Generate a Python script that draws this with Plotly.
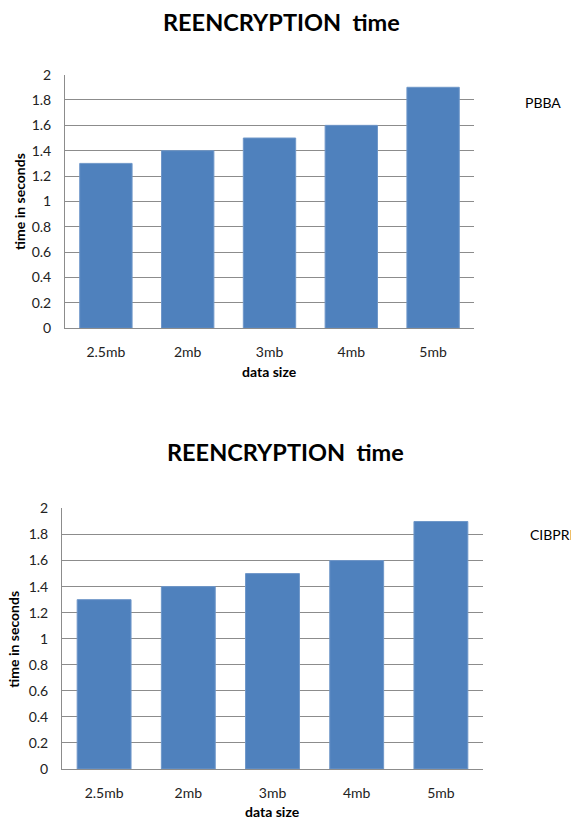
import plotly.graph_objects as go

# Data
categories = ["2.5mb", "2mb", "3mb", "4mb", "5mb"]
pbba_times = [1.3, 1.4, 1.5, 1.6, 1.9]
cibpre_times = [1.3, 1.4, 1.5, 1.6, 1.9]
y_ticks = [0, 0.2, 0.4, 0.6, 0.8, 1, 1.2, 1.4, 1.6, 1.8, 2]
y_tick_text = ["0", "0.2", "0.4", "0.6", "0.8", "1", "1.2", "1.4", "1.6", "1.8", "2"]

W, H = 571, 823
FONT = "Lato, 'Open Sans', sans-serif"
BAR = "#4F81BD"
GRID = "#8c8c8c"

def px_x(x):
    return x / W

def px_y(y):
    return 1 - y / H

fig = go.Figure()

fig.add_trace(go.Bar(x=categories, y=pbba_times, name="PBBA", marker=dict(color=BAR, line=dict(color="#6f97c9", width=1)),
                     xaxis="x", yaxis="y", showlegend=False))
fig.add_trace(go.Bar(x=categories, y=cibpre_times, name="CIBPRE", marker=dict(color=BAR, line=dict(color="#6f97c9", width=1)),
                     xaxis="x2", yaxis="y2", showlegend=False))

xcommon = dict(showgrid=False, showline=True, linecolor=GRID, linewidth=1, ticks="",
               tickfont=dict(family=FONT, size=14, color="#222"), ticklabelstandoff=11,
               fixedrange=True)
ycommon = dict(range=[0, 2], tickvals=y_ticks, ticktext=y_tick_text, showgrid=True, gridcolor=GRID,
               gridwidth=1, showline=True, linecolor=GRID, linewidth=1, zeroline=False, ticks="",
               tickfont=dict(family=FONT, size=14, color="#222"), ticklabelstandoff=10,
               fixedrange=True)

fig.update_layout(
    width=W, height=H,
    margin=dict(l=0, r=0, t=0, b=0),
    paper_bgcolor="white", plot_bgcolor="white",
    bargap=0.36,
    xaxis=dict(domain=[px_x(65), px_x(474)], anchor="y", **xcommon),
    yaxis=dict(domain=[px_y(326), px_y(67)], anchor="x", **ycommon),
    xaxis2=dict(domain=[px_x(62), px_x(483)], anchor="y2", **xcommon),
    yaxis2=dict(domain=[px_y(776), px_y(510)], anchor="x2", **ycommon),
)

title_txt = "REENCRYPTION\u00a0 time"

def note(text, x, y, size, angle=0, xanchor="center"):
    return dict(text=text, x=px_x(x), y=px_y(y), xref="paper", yref="paper", showarrow=False,
                xanchor=xanchor, yanchor="middle", textangle=angle,
                font=dict(family=FONT, size=size, color="black"))

ann = [
    # Chart titles
    note(f"<b>{title_txt}</b>", 281, 13, 23.5),
    note(f"<b>{title_txt}</b>", 285, 452, 23.5),
    # Axis titles
    note("<b>data size</b>", 269, 370, 14),
    note("<b>data size</b>", 272, 819, 14),
    note("<b>time in seconds</b>", 20, 197, 14, angle=-90),
    note("<b>time in seconds</b>", 14, 644, 14, angle=-90),
    # Series labels
    note("PBBA", 523, 95, 14, xanchor="left"),
    note("CIBPRE", 528, 537, 14, xanchor="left"),
]
fig.update_layout(annotations=ann)

fig.write_html("out.html")
